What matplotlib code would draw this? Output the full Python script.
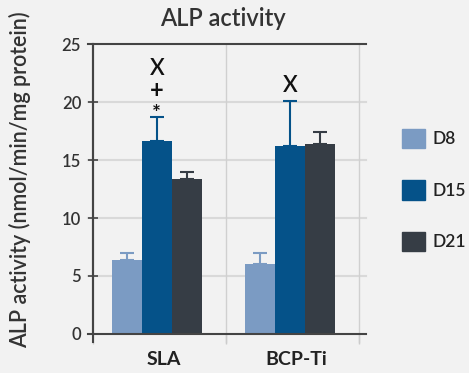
import matplotlib
matplotlib.use("Agg")
import matplotlib.pyplot as plt
import numpy as np

categories = ["SLA", "BCP-Ti"]
series = ["D8", "D15", "D21"]
d8 = [6.4, 6.0]
d15 = [16.6, 16.2]
d21 = [13.4, 16.4]
d8_err = [0.6, 1.0]
d15_err = [2.1, 3.9]
d21_err = [0.6, 1.0]
annotations = {0: ["*", "+", "X"], 1: ["X"]}

colors = ["#7b9bc3", "#055289", "#363d45"]
plt.rcParams['font.family'] = ['Lato', 'DejaVu Sans']
plt.rcParams['font.weight'] = 'semibold'

W, H = 469, 373
fig = plt.figure(figsize=(W/100, H/100), dpi=100)
fig.patch.set_facecolor("#f2f2f2")
ax = fig.add_axes([93/W, (H-334)/H, (359-93)/W, (334-44)/H])
ax.set_facecolor("#f2f2f2")

x = np.arange(len(categories))
bw = 0.225
vals = [d8, d15, d21]
errs = [d8_err, d15_err, d21_err]
for i, (v, e, c) in enumerate(zip(vals, errs, colors)):
    pos = x + (i - 1) * bw - 0.02
    ax.bar(pos, v, width=bw, color=c, label=series[i], zorder=3)
    ax.errorbar(pos, v, yerr=[np.zeros(len(v)), e], fmt="none", ecolor=c,
                elinewidth=1.5, capsize=5, capthick=1.5, zorder=2)

# annotations above D15 bars
sizes = {"X": 16, "+": 17, "*": 15}
for gi, syms in annotations.items():
    top = d15[gi] + d15_err[gi]
    xp = x[gi] - 0.02
    offs = [0.3, 2.3, 4.15] if len(syms) == 3 else [1.35]
    for s, o in zip(syms, offs):
        ax.text(xp, top + o, s, ha="center", va="center",
                fontsize=sizes[s], fontweight="semibold" if s == "X" else "bold",
                color="#111111", zorder=4)

ax.set_xlim(-0.5, 1.5)
ax.set_ylim(0, 25)
ax.set_yticks([0, 5, 10, 15, 20, 25])
ax.set_xticks([-0.5, 0.5, 1.5], minor=False)
ax.set_xticklabels([])
ax.tick_params(axis="x", which="major", length=7, direction="out", color="#cccccc", width=1)
ax.set_xticks(x + 0.03, minor=True)
ax.set_xticklabels(categories, minor=True, fontsize=14, fontweight="bold", color="#222222")
ax.tick_params(axis="x", which="minor", length=0, pad=12)
ax.tick_params(axis="y", length=7, direction="inout", width=1.2, color="#444444",
               labelsize=12, labelcolor="#333333", pad=5)

for sp in ["top", "right", "bottom"]:
    ax.spines[sp].set_visible(False)
ax.spines["left"].set_color("#444444")
ax.spines["left"].set_linewidth(1.5)
ax.spines["left"].set_bounds(0, 25)

ext = 1 + 7 / (359 - 93)
for yv in [5, 10, 15, 20]:
    ax.plot([-0.02, ext], [yv / 25, yv / 25], transform=ax.transAxes, color="#d9d9d9",
            lw=1.5, clip_on=False, zorder=1)
for yv, c in [(0, "#444444"), (1, "#444444")]:
    ax.plot([-0.02, ext], [yv, yv], transform=ax.transAxes, color=c,
            lw=1.5, clip_on=False, zorder=5)
for xv in [0.5, 1.0]:
    ax.plot([xv, xv], [-0.028, 1], transform=ax.transAxes, color="#d0d0d0",
            lw=1, clip_on=False, zorder=1)
ax.plot([0, 0], [-0.028, 1], transform=ax.transAxes, color="#444444", lw=1.5, clip_on=False, zorder=5)

fig.text(223/W, 1 - 19/H, "ALP activity", ha="center", va="center", fontsize=17, color="#333333")
fig.text(20/W, 1 - 180/H, "ALP activity (nmol/min/mg protein)", rotation=90,
         ha="center", va="center", fontsize=15.5, color="#333333")

handles = [plt.Rectangle((0, 0), 1, 1, color=c) for c in colors]
leg = fig.legend(handles, series, loc="center left", bbox_to_anchor=(402/W, 1 - 190/H),
                 frameon=False, fontsize=12.5, handlelength=1.35, handleheight=1.35,
                 labelspacing=1.85, handletextpad=0.4, borderpad=0, borderaxespad=0)
for t in leg.get_texts():
    t.set_color("#222222")

fig.savefig("out.png", dpi=100, facecolor=fig.get_facecolor())
